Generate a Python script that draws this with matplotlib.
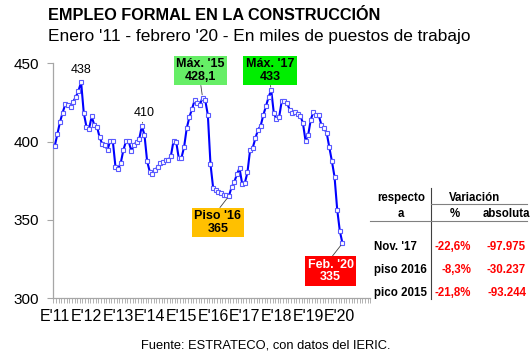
import matplotlib
matplotlib.use("Agg")
import matplotlib.pyplot as plt
import numpy as np

plt.rcParams['font.family'] = ['Liberation Sans', 'DejaVu Sans']

# empleo formal en la construccion, miles de puestos, ene-2011 a feb-2020
empleo = [397, 404.7, 412.5, 418.5, 423.8, 423.5, 422, 425.5, 428.5, 432.5, 438, 418.3,
          409.6, 408.1, 416, 410.5, 409.6, 402.7, 398.5, 398, 394.5, 400.6, 400.4, 384,
          382.6, 386.2, 394.5, 400.2, 400.2, 394, 397.5, 400, 401.5, 410, 404.2, 387.5,
          380.7, 379.4, 382, 383.6, 386.5, 386.8, 387.9, 387.9, 390.8, 400.4, 400, 389.2,
          389.6, 396.4, 408.5, 415.5, 420.8, 426.3, 424.5, 423.5, 428.1, 426.5, 417, 385.6,
          370.5, 368.8, 367.5, 366.8, 366, 365.6, 365.2, 370.9, 374, 379, 383, 373,
          373.4, 380.3, 394.5, 396, 402, 407.5, 410, 416.8, 422.5, 428.3, 433, 418,
          414.4, 415.5, 426, 425.7, 424.8, 420.2, 418.5, 419, 417.3, 416.5, 412, 400.5,
          404.2, 414, 419.1, 416.8, 416.8, 410.7, 408.4, 405.7, 396.4, 387.4, 377.3, 356.5,
          342.7, 335]
year_labels = ["E'11", "E'12", "E'13", "E'14", "E'15", "E'16", "E'17", "E'18", "E'19", "E'20"]
n_cat = 120  # el eje llega a dic-2020

ref_labels = ["Nov. '17", "piso 2016", "pico 2015"]
var_pct = ["-22,6%", "-8,3%", "-21,8%"]
var_abs = ["-97.975", "-30.237", "-93.244"]

W, H = 530, 354


def fx(px):
    return px / W


def fy(py):
    return 1 - py / H


fig = plt.figure(figsize=(W / 100, H / 100), dpi=100)
ax = fig.add_axes([fx(53.4), 56 / H, (370.2 - 53.4) / W, (298 - 63.3) / H])

x = np.arange(len(empleo))
ax.plot(x, empleo, color='#0000ff', lw=1.5, marker='s', ms=3.4,
        mfc='white', mec='#5a5aff', mew=0.8, zorder=3)

ax.set_xlim(-0.5, n_cat - 0.5)
ax.set_ylim(300, 450)
ax.set_yticks([300, 350, 400, 450])
ax.set_xticks(np.arange(0, len(empleo), 12))
ax.set_xticklabels(year_labels)
ax.set_xticks(np.arange(n_cat + 1) - 0.5, minor=True)
for s in ['top', 'right']:
    ax.spines[s].set_visible(False)
for s in ['left', 'bottom']:
    ax.spines[s].set_color('#a6a6a6')
    ax.spines[s].set_linewidth(0.9)
ax.tick_params(axis='y', direction='out', length=4, color='#a6a6a6', labelsize=11, pad=6.5)
ax.tick_params(axis='x', which='major', length=0, labelsize=11.5, pad=8)
ax.tick_params(axis='x', which='minor', direction='out', length=3.5, width=0.6, color='#a6a6a6')

# etiquetas de valores
ax.annotate('438', xy=(10, empleo[10]), xytext=(81.3, H - 70), textcoords='figure pixels',
            ha='center', va='center', fontsize=9, annotation_clip=False)
ax.annotate('410', xy=(33, empleo[33]), xytext=(144.5, H - 113.5), textcoords='figure pixels',
            ha='center', va='center', fontsize=9, annotation_clip=False,
            arrowprops=dict(arrowstyle='-', color='#404040', lw=0.6, shrinkA=0, shrinkB=2))

boxes = [
    (56, "Máx. '15\n428,1", '#66ee66', 'black', (200.5, 70.5), (0.5, 0)),
    (82, "Máx. '17\n433", '#00ee00', 'black', (270, 70.5), (0.5, 0)),
    (66, "Piso '16\n365", '#ffc000', 'black', (218, 222.5), (0.5, 1)),
    (109, "Feb. '20\n335", '#ff0000', 'white', (330.5, 271), (0.5, 1)),
]
for i, txt, fc, tc, (cx, cy), rp in boxes:
    ax.annotate(txt, xy=(i, empleo[i]), xytext=(cx, H - cy), textcoords='figure pixels',
                ha='center', va='center', fontsize=9, fontweight='bold', color=tc,
                linespacing=1.1, annotation_clip=False, zorder=5,
                bbox=dict(boxstyle='square,pad=0.2', fc=fc, ec='none'),
                arrowprops=dict(arrowstyle='-', color='#404040', lw=0.6, shrinkA=0,
                                shrinkB=2, relpos=rp))

# titulos
fig.text(fx(48), fy(16), 'EMPLEO FORMAL EN LA CONSTRUCCIÓN', fontsize=11.7,
         fontweight='bold', va='center', ha='left')
fig.text(fx(48), fy(37), "Enero '11 - febrero '20 - En miles de puestos de trabajo",
         fontsize=12.4, va='center', ha='left')
fig.text(fx(266), fy(345), 'Fuente: ESTRATECO, con datos del IERIC.', fontsize=9.3,
         va='center', ha='center')

# tabla de variaciones
tfs = 8.3
fig.text(fx(401.7), fy(198), 'respecto', fontsize=tfs, fontweight='bold', ha='center', va='center')
fig.text(fx(401), fy(214), 'a', fontsize=tfs, fontweight='bold', ha='center', va='center')
fig.text(fx(475), fy(198), 'Variación', fontsize=tfs, fontweight='bold', ha='center', va='center')
fig.text(fx(455), fy(214), '%', fontsize=tfs, fontweight='bold', ha='center', va='center')
fig.text(fx(506.7), fy(214), 'absoluta', fontsize=tfs, fontweight='bold', ha='center', va='center')
row_y = [246.7, 270, 293]
for ry, lab, p, a in zip(row_y, ref_labels, var_pct, var_abs):
    fig.text(fx(374), fy(ry), lab, fontsize=tfs, fontweight='bold', ha='left', va='center')
    fig.text(fx(471), fy(ry), p, fontsize=tfs, fontweight='bold', color='#ff0000',
             ha='right', va='center')
    fig.text(fx(526), fy(ry), a, fontsize=tfs, fontweight='bold', color='#ff0000',
             ha='right', va='center')
fig.add_artist(plt.Line2D([fx(430.7), fx(430.7)], [fy(188), fy(299)], color='#404040', lw=0.8))
fig.add_artist(plt.Line2D([fx(431), fx(527)], [fy(204), fy(204)], color='#808080', lw=0.8))
fig.add_artist(plt.Line2D([fx(370), fx(527)], [fy(220.7), fy(220.7)], color='#808080', lw=0.8))

fig.savefig('out.png', dpi=100)
